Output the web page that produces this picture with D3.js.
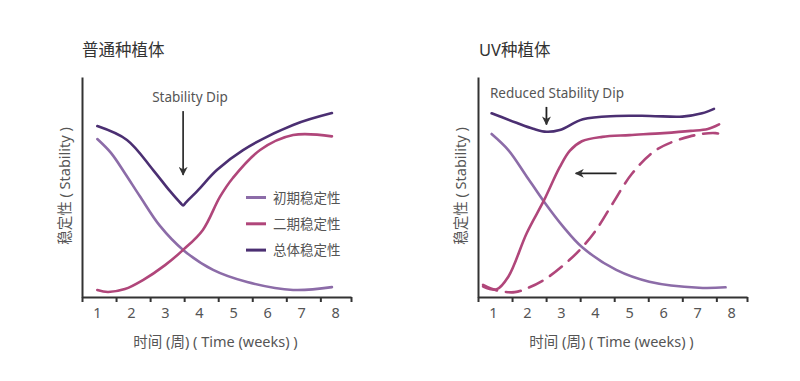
<!DOCTYPE html>
<html><head><meta charset="utf-8">
<script src="https://cdn.jsdelivr.net/npm/d3@7"></script>
<style>
html,body{margin:0;padding:0;background:#fff;}
text{font-family:"Noto Sans","Noto Sans CJK SC",sans-serif;fill:#555;}
</style></head>
<body><svg id="c" width="800" height="381"></svg>
<script>
// ---- data ----
const weekLabels = [1,2,3,4,5,6,7,8];
const tickMarks = [0.55,1.55,2.55,3.55,4.55,5.55,6.55,7.55,8.45];
const panelTitles = ["普通种植体","UV种植体"];
const seriesNames = ["初期稳定性","二期稳定性","总体稳定性"];
const yTitle = "稳定性 ( Stability )";
const xTitle = "时间 (周) ( Time (weeks) )";

// 普通种植体
const normalInitial = [[1.0,71.8],[1.4,65.5],[1.8,56.5],[2.25,45.8],[2.84,32.3],[3.52,21.4],[4.4,12.3],[5.4,6.8],[6.75,3.2],[7.89,4.5]];
const normalSecondary = [[1.0,3.2],[1.31,2.3],[1.81,3.6],[2.34,7.7],[2.99,14.5],[3.52,21.4],[4.1,30.5],[4.6,45.5],[4.98,54.1],[5.78,66.8],[6.75,73.6],[7.89,73.0]];
const normalOverall = [[1.0,77.7],[1.87,71.4],[2.64,57.7],[3.13,48.2],[3.45,42.6],[3.52,41.6],[3.59,42.8],[3.96,48.6],[4.51,57.7],[5.28,66.8],[6.75,78.2],[7.89,83.6]];

// UV种植体
const uvInitial = [[0.95,74.1],[1.44,66.8],[1.95,55.5],[2.49,43.3],[3.05,32.0],[3.61,22.6],[4.61,12.3],[5.58,6.95],[7.04,4.2],[7.82,4.4]];
const uvSecondary = [[0.7,4.8],[1.1,3.5],[1.44,9.2],[1.98,29.0],[2.49,44.0],[2.95,59.0],[3.25,66.5],[3.6,70.8],[4.2,72.8],[5.0,73.6],[6.0,74.5],[6.8,75.5],[7.3,76.4],[7.63,78.5]];
const uvSecondaryOld = [[0.7,5.5],[1.1,3.0],[1.63,2.2],[2.0,4.0],[2.56,8.5],[3.24,16.9],[3.61,22.6],[4.02,30.5],[4.51,42.6],[5.07,56.0],[5.78,66.8],[6.75,72.9],[7.53,74.5],[7.82,73.2]];
const uvOverall = [[0.95,83.5],[1.68,79.2],[2.17,76.5],[2.56,75.1],[2.95,75.9],[3.63,80.8],[4.61,82.3],[5.6,82.3],[6.55,82.0],[7.13,83.5],[7.48,85.5]];

const colors = {initial:"#8c6ca8", secondary:"#b0467a", overall:"#4b2f72"};

// ---- drawing ----
const svg = d3.select("#c");
const defs = svg.append("defs");
defs.append("marker").attr("id","ah").attr("viewBox","0 0 10 10").attr("refX",9).attr("refY",5)
  .attr("markerWidth",5).attr("markerHeight",5).attr("orient","auto-start-reverse")
  .append("path").attr("d","M0,0 L10,5 L0,10 L3,5 z").attr("fill","#333");

const y = d3.scaleLinear().domain([0,100]).range([297,77]);
const panels = [
  {left:82, right:351, title:panelTitles[0],
   series:[{d:normalInitial,c:colors.initial},{d:normalSecondary,c:colors.secondary},{d:normalOverall,c:colors.overall}]},
  {left:478, right:747, title:panelTitles[1],
   series:[{d:uvInitial,c:colors.initial},{d:uvSecondaryOld,c:colors.secondary,dash:"15,9"},{d:uvSecondary,c:colors.secondary},{d:uvOverall,c:colors.overall}]}
];

panels.forEach((p,i)=>{
  const x = d3.scaleLinear().domain([0.55,8.45]).range([p.left,p.right]);
  p.x = x;
  const g = svg.append("g");
  const xa = g.append("g").attr("transform","translate(0,297)")
    .call(d3.axisBottom(x).tickValues(tickMarks).tickFormat("").tickSize(5).tickSizeOuter(0));
  xa.selectAll("path,line").attr("stroke","#333").attr("stroke-width",2);
  const ya = g.append("g").attr("transform",`translate(${p.left},0)`)
    .call(d3.axisLeft(y).tickValues([]).tickSizeOuter(0));
  ya.selectAll("path").attr("stroke","#333").attr("stroke-width",2);
  g.selectAll(".wl").data(weekLabels).join("text")
    .attr("x",d=>x(d)).attr("y",318).attr("text-anchor","middle")
    .attr("font-size",14.5).text(d=>d);
  g.append("text").attr("x",(p.left+p.right)/2-1).attr("y",347).attr("text-anchor","middle")
    .attr("font-size",14.5).text(xTitle);
  g.append("text").attr("transform",`translate(${p.left-12},186) rotate(-90)`)
    .attr("text-anchor","middle").attr("font-size",14.5).text(yTitle);
  g.append("text").attr("x",p.left + (i===0?0:1)).attr("y",56).attr("font-size",16.5)
    .style("fill","#333").text(p.title);
  const line = d3.line().x(d=>x(d[0])).y(d=>y(d[1])).curve(d3.curveCatmullRom.alpha(0.5));
  p.series.forEach(s=>{
    g.append("path").attr("d",line(s.d)).attr("fill","none").attr("stroke",s.c)
      .attr("stroke-width",2.6).attr("stroke-linecap","round")
      .attr("stroke-dasharray",s.dash||null);
  });
});

{
  const x = panels[0].x, g = svg.append("g");
  g.append("text").attr("x",x(3.72)).attr("y",y(90.9)+5).attr("text-anchor","middle")
    .attr("font-size",13.5).text("Stability Dip");
  g.append("line").attr("x1",x(3.52)).attr("x2",x(3.52)).attr("y1",y(84.5)).attr("y2",y(55.5))
    .attr("stroke","#333").attr("stroke-width",1.8).attr("marker-end","url(#ah)");
  const items = [{n:seriesNames[0],c:colors.initial},{n:seriesNames[1],c:colors.secondary},{n:seriesNames[2],c:colors.overall}];
  items.forEach((it,k)=>{
    const yy = 197.5 + k*26.3;
    g.append("line").attr("x1",246).attr("x2",266).attr("y1",yy).attr("y2",yy)
      .attr("stroke",it.c).attr("stroke-width",3);
    g.append("text").attr("x",273).attr("y",yy+5).attr("font-size",13.5).text(it.n);
  });
}
{
  const x = panels[1].x, g = svg.append("g");
  g.append("text").attr("x",x(0.9)).attr("y",y(92.6)+5).attr("font-size",13.5).text("Reduced Stability Dip");
  g.append("line").attr("x1",x(2.56)).attr("x2",x(2.56)).attr("y1",y(86.4)).attr("y2",y(78.4))
    .attr("stroke","#222").attr("stroke-width",1.8).attr("marker-end","url(#ah)");
  g.append("line").attr("x1",x(4.62)).attr("x2",x(3.42)).attr("y1",y(56.2)).attr("y2",y(56.2))
    .attr("stroke","#222").attr("stroke-width",1.8).attr("marker-end","url(#ah)");
}
</script></body></html>
